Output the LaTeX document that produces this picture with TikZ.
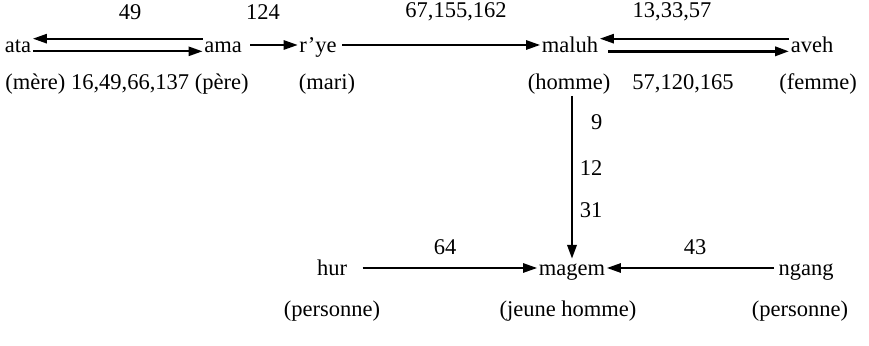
\documentclass[tikz,border=0pt]{standalone}
\usepackage{fontspec}
\setmainfont{Liberation Serif}
\usetikzlibrary{arrows.meta, positioning}

\begin{document}
\begin{tikzpicture}[x=0.025cm, y=-0.025cm,
    mot/.style={inner sep=1pt, text height=10.5pt, text depth=0pt, font=\fontsize{16}{19}\selectfont},
    gloss/.style={inner sep=1pt, font=\fontsize{16}{19}\selectfont},
    fleche/.style={-{Triangle[length=10pt, width=6.5pt]}, line width=1.6pt},
    grosse/.style={fleche, line width=2.1pt}
]
\useasboundingbox (0,0) rectangle (869,346);

% Top row: kinship terms
\node[mot] (ata)   at (18,45)  {ata};
\node[mot] (ama)   at (223,45) {ama};
\node[mot] (rye)   at (318,45) {r'ye};
\node[mot] (maluh) at (570,45) {maluh};
\node[mot] (aveh)  at (812,45) {aveh};

% Numbers above the arrows
\node[gloss] (n49)  at (130,12) {49};
\node[gloss] (n124) at (263,12) {124};
\node[gloss] (n67)  at (456,12) {67,155,162};
\node[gloss] (n13)  at (672,12) {13,33,57};

% Glosses under the top row
\node[gloss] (parents) at (127,84) {(mère) 16,49,66,137 (père)};
\node[gloss] (mari)    at (327,84) {(mari)};
\node[gloss] (homme)   at (569,84) {(homme)};
\node[gloss] (n57)     at (683,84) {57,120,165};
\node[gloss] (femme)   at (818,84) {(femme)};

% Numbers beside the vertical arrow
\node[gloss, anchor=east] (n9)  at (604,122) {9};
\node[gloss, anchor=east] (n12) at (604,168) {12};
\node[gloss, anchor=east] (n31) at (604,210) {31};

% Bottom row
\node[gloss] (n64) at (445,247) {64};
\node[gloss] (n43) at (695,247) {43};
\node[mot] (hur)   at (332,268) {hur};
\node[mot] (magem) at (572,268) {magem};
\node[mot] (ngang) at (806,268) {ngang};
\node[gloss] (pers1) at (332,311) {(personne)};
\node[gloss] (jeune) at (568,311) {(jeune homme)};
\node[gloss] (pers2) at (800,311) {(personne)};

% Arrows
\draw[fleche] ([yshift=4.5pt]ama.west) -- ([yshift=4.5pt]ata.east);
\draw[fleche] ([yshift=-4.5pt]ata.east) -- ([yshift=-4.5pt]ama.west);
\draw[fleche, shorten <=5pt] (ama.east) -- (rye.west);
\draw[fleche, shorten <=3pt] (rye.east) -- (maluh.west);
\draw[fleche] ([yshift=4.5pt]aveh.west) -- ([yshift=4.5pt]maluh.east);
\draw[grosse, shorten <=6pt] ([yshift=-4.5pt]maluh.east) -- ([yshift=-4.5pt]aveh.west);
\draw[grosse] (homme.south -| magem.north) -- (magem.north);
\draw[fleche, shorten <=10pt] (hur.east) -- (magem.west);
\draw[fleche, shorten <=2pt] (ngang.west) -- (magem.east);

\end{tikzpicture}
\end{document}
